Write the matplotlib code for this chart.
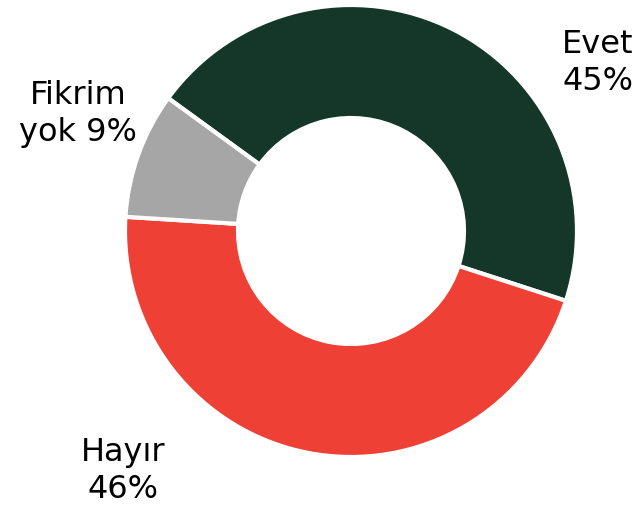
import matplotlib
matplotlib.use("Agg")
import matplotlib.pyplot as plt

# survey answers, percent
labels = ["Evet", "Hayır", "Fikrim\nyok"]
values = [45, 46, 9]
colors = ["#14372A", "#EF4036", "#A6A6A6"]

plt.rcParams['font.family'] = 'DejaVu Sans'

W, H = 644, 518
fig = plt.figure(figsize=(W / 100, H / 100), dpi=100)
ax = fig.add_axes([0, 0, 1, 1])

# pixel-ish layout: center of donut and radii
cx, cy = 351, H - 231
r_out = 226
ring = 113

ax.pie(values, colors=colors, startangle=144, counterclock=False,
       center=(cx, cy), radius=r_out,
       wedgeprops=dict(width=ring, edgecolor="white", linewidth=3))

ax.set_xlim(0, W)
ax.set_ylim(0, H)
ax.set_aspect("equal")
ax.axis("off")

# label text positions (pixel coords, top-down)
label_pos = [(598, 63), (123, 471), (78, 114)]
for lab, val, (x, y) in zip(labels, values, label_pos):
    if lab.startswith("Fikrim"):
        txt = f"Fikrim\nyok {val}%"
    else:
        txt = f"{lab}\n{val}%"
    ax.text(x, H - y, txt, ha="center", va="center", fontsize=23,
            color="black", linespacing=1.25)

fig.savefig("out.png", dpi=100)
